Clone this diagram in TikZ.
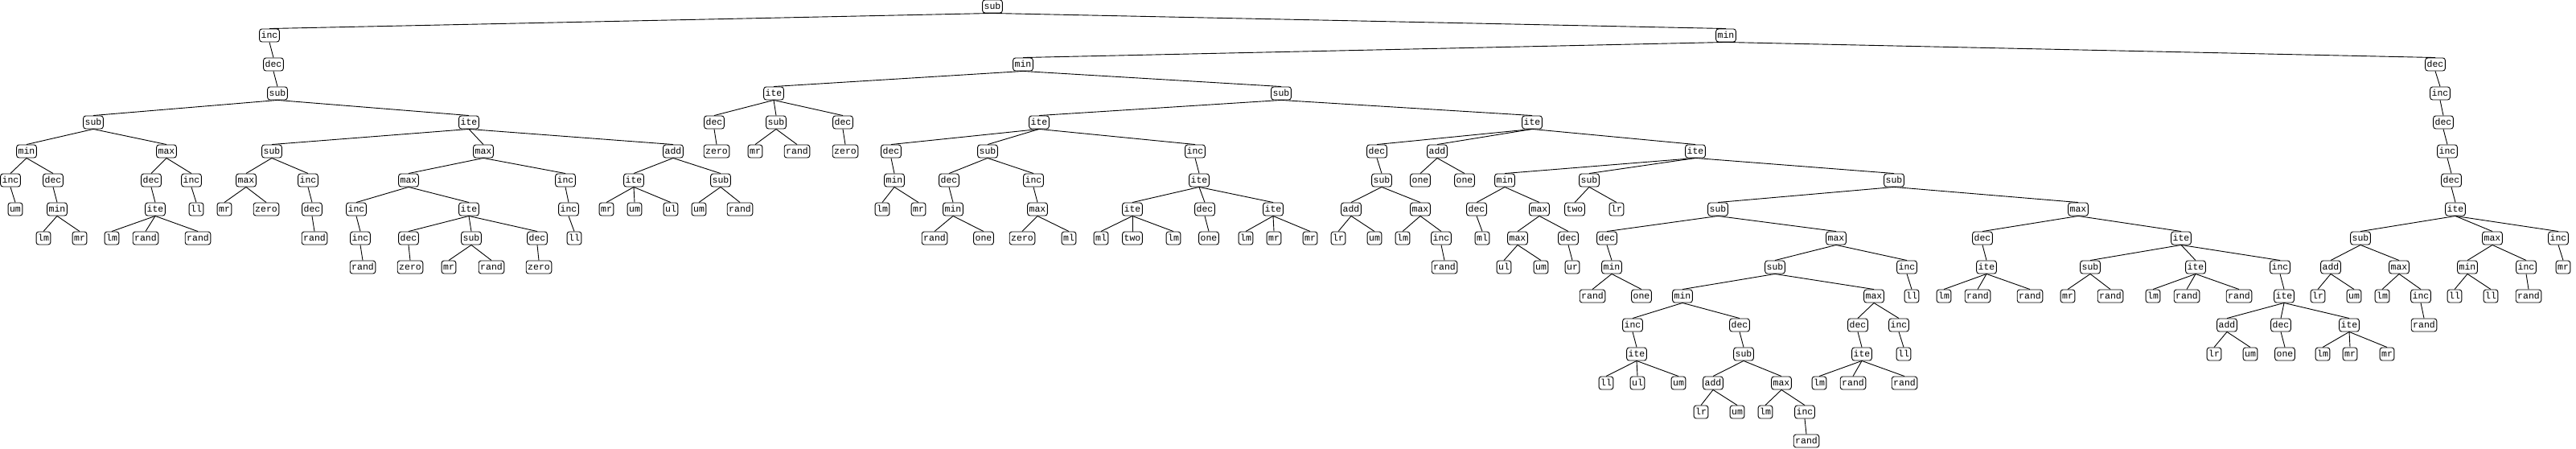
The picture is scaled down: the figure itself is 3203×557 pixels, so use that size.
\documentclass[tikz,border=0pt]{standalone}
\usepackage{fontspec}
\setmonofont{Liberation Mono}
\begin{document}
\begin{tikzpicture}[x=1pt, y=-1pt,
    op/.style={draw, rounded corners=3pt, inner xsep=2pt, inner ysep=1pt,
      minimum height=16pt, text height=8pt, text depth=2pt, line width=0.9pt,
      font=\ttfamily\fontsize{11.5}{12}\selectfont},
    edge/.style={line width=0.9pt}]
    \useasboundingbox (0,0) rectangle (3203,557);

    % Root
    \node[op] (n0) at (1234,8) {sub};

    % Left branch
    \node[op] (n1) at (335,44) {inc};
    \node[op] (n2) at (340,80) {dec};
    \node[op] (n3) at (345,116) {sub};
    \node[op] (n4) at (116,152) {sub};
    \node[op] (n5) at (33,188) {min};
    \node[op] (n6) at (13,224) {inc};
    \node[op] (n7) at (19,260) {um};
    \node[op] (n8) at (66,224) {dec};
    \node[op] (n9) at (71,260) {min};
    \node[op] (n10) at (54,296) {lm};
    \node[op] (n11) at (99,296) {mr};
    \node[op] (n12) at (207,188) {max};
    \node[op] (n13) at (188,224) {dec};
    \node[op] (n14) at (193,260) {ite};
    \node[op] (n15) at (139,296) {lm};
    \node[op] (n16) at (181,296) {rand};
    \node[op] (n17) at (246,296) {rand};
    \node[op] (n18) at (238,224) {inc};
    \node[op] (n19) at (244,260) {ll};
    \node[op] (n20) at (583,152) {ite};
    \node[op] (n21) at (338,188) {sub};
    \node[op] (n22) at (306,224) {max};
    \node[op] (n23) at (279,260) {mr};
    \node[op] (n24) at (331,260) {zero};
    \node[op] (n25) at (383,224) {inc};
    \node[op] (n26) at (388,260) {dec};
    \node[op] (n27) at (391,296) {rand};
    \node[op] (n28) at (601,188) {max};
    \node[op] (n29) at (508,224) {max};
    \node[op] (n30) at (443,260) {inc};
    \node[op] (n31) at (448,296) {inc};
    \node[op] (n32) at (451,332) {rand};
    \node[op] (n33) at (583,260) {ite};
    \node[op] (n34) at (508,296) {dec};
    \node[op] (n35) at (510,332) {zero};
    \node[op] (n36) at (586,296) {sub};
    \node[op] (n37) at (558,332) {mr};
    \node[op] (n38) at (611,332) {rand};
    \node[op] (n39) at (668,296) {dec};
    \node[op] (n40) at (670,332) {zero};
    \node[op] (n41) at (703,224) {inc};
    \node[op] (n42) at (707,260) {inc};
    \node[op] (n43) at (714,296) {ll};
    \node[op] (n44) at (837,188) {add};
    \node[op] (n45) at (788,224) {ite};
    \node[op] (n46) at (754,260) {mr};
    \node[op] (n47) at (789,260) {um};
    \node[op] (n48) at (834,260) {ul};
    \node[op] (n49) at (896,224) {sub};
    \node[op] (n50) at (869,260) {um};
    \node[op] (n51) at (920,260) {rand};

    % Right branch, first min
    \node[op] (n52) at (2146,44) {min};
    \node[op] (n53) at (1272,80) {min};
    \node[op] (n54) at (962,116) {ite};
    \node[op] (n55) at (888,152) {dec};
    \node[op] (n56) at (891,188) {zero};
    \node[op] (n57) at (965,152) {sub};
    \node[op] (n58) at (939,188) {mr};
    \node[op] (n59) at (991,188) {rand};
    \node[op] (n60) at (1048,152) {dec};
    \node[op] (n61) at (1051,188) {zero};
    \node[op] (n62) at (1593,116) {sub};
    \node[op] (n63) at (1292,152) {ite};
    \node[op] (n64) at (1108,188) {dec};
    \node[op] (n65) at (1112,224) {min};
    \node[op] (n66) at (1097,260) {lm};
    \node[op] (n67) at (1142,260) {mr};
    \node[op] (n68) at (1228,188) {sub};
    \node[op] (n69) at (1180,224) {dec};
    \node[op] (n70) at (1185,260) {min};
    \node[op] (n71) at (1162,296) {rand};
    \node[op] (n72) at (1223,296) {one};
    \node[op] (n73) at (1285,224) {inc};
    \node[op] (n74) at (1290,260) {max};
    \node[op] (n75) at (1271,296) {zero};
    \node[op] (n76) at (1329,296) {ml};
    \node[op] (n77) at (1486,188) {inc};
    \node[op] (n78) at (1491,224) {ite};
    \node[op] (n79) at (1408,260) {ite};
    \node[op] (n80) at (1369,296) {ml};
    \node[op] (n81) at (1408,296) {two};
    \node[op] (n82) at (1459,296) {lm};
    \node[op] (n83) at (1498,260) {dec};
    \node[op] (n84) at (1503,296) {one};
    \node[op] (n85) at (1583,260) {ite};
    \node[op] (n86) at (1549,296) {lm};
    \node[op] (n87) at (1584,296) {mr};
    \node[op] (n88) at (1629,296) {mr};

    % Right branch, the big ite
    \node[op] (n89) at (1905,152) {ite};
    \node[op] (n90) at (1712,188) {dec};
    \node[op] (n91) at (1718,224) {sub};
    \node[op] (n92) at (1680,260) {add};
    \node[op] (n93) at (1664,296) {lr};
    \node[op] (n94) at (1709,296) {um};
    \node[op] (n95) at (1766,260) {max};
    \node[op] (n96) at (1744,296) {lm};
    \node[op] (n97) at (1792,296) {inc};
    \node[op] (n98) at (1796,332) {rand};
    \node[op] (n99) at (1787,188) {add};
    \node[op] (n100) at (1766,224) {one};
    \node[op] (n101) at (1821,224) {one};
    \node[op] (n102) at (2108,188) {ite};
    \node[op] (n103) at (1871,224) {min};
    \node[op] (n104) at (1836,260) {dec};
    \node[op] (n105) at (1843,296) {ml};
    \node[op] (n106) at (1914,260) {max};
    \node[op] (n107) at (1887,296) {max};
    \node[op] (n108) at (1870,332) {ul};
    \node[op] (n109) at (1916,332) {um};
    \node[op] (n110) at (1950,296) {dec};
    \node[op] (n111) at (1955,332) {ur};
    \node[op] (n112) at (1976,224) {sub};
    \node[op] (n113) at (1958,260) {two};
    \node[op] (n114) at (2010,260) {lr};
    \node[op] (n115) at (2355,224) {sub};
    \node[op] (n116) at (2136,260) {sub};
    \node[op] (n117) at (1998,296) {dec};
    \node[op] (n118) at (2004,332) {min};
    \node[op] (n119) at (1980,368) {rand};
    \node[op] (n120) at (2041,368) {one};
    \node[op] (n121) at (2283,296) {max};
    \node[op] (n122) at (2207,332) {sub};
    \node[op] (n123) at (2092,368) {min};
    \node[op] (n124) at (2030,404) {inc};
    \node[op] (n125) at (2035,440) {ite};
    \node[op] (n126) at (1997,476) {ll};
    \node[op] (n127) at (2036,476) {ul};
    \node[op] (n128) at (2087,476) {um};
    \node[op] (n129) at (2163,404) {dec};
    \node[op] (n130) at (2168,440) {sub};
    \node[op] (n131) at (2130,476) {add};
    \node[op] (n132) at (2115,512) {lr};
    \node[op] (n133) at (2160,512) {um};
    \node[op] (n134) at (2215,476) {max};
    \node[op] (n135) at (2195,512) {lm};
    \node[op] (n136) at (2244,512) {inc};
    \node[op] (n137) at (2246,548) {rand};
    \node[op] (n138) at (2330,368) {max};
    \node[op] (n139) at (2310,404) {dec};
    \node[op] (n140) at (2315,440) {ite};
    \node[op] (n141) at (2262,476) {lm};
    \node[op] (n142) at (2304,476) {rand};
    \node[op] (n143) at (2368,476) {rand};
    \node[op] (n144) at (2361,404) {inc};
    \node[op] (n145) at (2367,440) {ll};
    \node[op] (n146) at (2371,332) {inc};
    \node[op] (n147) at (2377,368) {ll};
    \node[op] (n148) at (2584,260) {max};
    \node[op] (n149) at (2465,296) {dec};
    \node[op] (n150) at (2470,332) {ite};
    \node[op] (n151) at (2417,368) {lm};
    \node[op] (n152) at (2459,368) {rand};
    \node[op] (n153) at (2524,368) {rand};
    \node[op] (n154) at (2712,296) {ite};
    \node[op] (n155) at (2599,332) {sub};
    \node[op] (n156) at (2571,368) {mr};
    \node[op] (n157) at (2624,368) {rand};
    \node[op] (n158) at (2730,332) {ite};
    \node[op] (n159) at (2677,368) {lm};
    \node[op] (n160) at (2719,368) {rand};
    \node[op] (n161) at (2784,368) {rand};
    \node[op] (n162) at (2835,332) {inc};
    \node[op] (n163) at (2840,368) {ite};
    \node[op] (n164) at (2769,404) {add};
    \node[op] (n165) at (2753,440) {lr};
    \node[op] (n166) at (2798,440) {um};
    \node[op] (n167) at (2836,404) {dec};
    \node[op] (n168) at (2841,440) {one};
    \node[op] (n169) at (2921,404) {ite};
    \node[op] (n170) at (2888,440) {lm};
    \node[op] (n171) at (2922,440) {mr};
    \node[op] (n172) at (2968,440) {mr};

    % Right branch, dec/inc chain
    \node[op] (n173) at (3028,80) {dec};
    \node[op] (n174) at (3034,116) {inc};
    \node[op] (n175) at (3038,152) {dec};
    \node[op] (n176) at (3043,188) {inc};
    \node[op] (n177) at (3048,224) {dec};
    \node[op] (n178) at (3053,260) {ite};
    \node[op] (n179) at (2935,296) {sub};
    \node[op] (n180) at (2898,332) {add};
    \node[op] (n181) at (2882,368) {lr};
    \node[op] (n182) at (2927,368) {um};
    \node[op] (n183) at (2983,332) {max};
    \node[op] (n184) at (2962,368) {lm};
    \node[op] (n185) at (3010,368) {inc};
    \node[op] (n186) at (3014,404) {rand};
    \node[op] (n187) at (3099,296) {max};
    \node[op] (n188) at (3068,332) {min};
    \node[op] (n189) at (3052,368) {ll};
    \node[op] (n190) at (3097,368) {ll};
    \node[op] (n191) at (3141,332) {inc};
    \node[op] (n192) at (3144,368) {rand};
    \node[op] (n193) at (3181,296) {inc};
    \node[op] (n194) at (3187,332) {mr};

    % Edges, parent/child
    \foreach \p/\c in {0/1, 1/2, 2/3, 3/4, 4/5, 5/6, 6/7, 5/8, 8/9, 9/10, 9/11,
        4/12, 12/13, 13/14, 14/15, 14/16, 14/17, 12/18, 18/19,
        3/20, 20/21, 21/22, 22/23, 22/24, 21/25, 25/26, 26/27,
        20/28, 28/29, 29/30, 30/31, 31/32, 29/33, 33/34, 34/35, 33/36, 36/37, 36/38,
        33/39, 39/40, 28/41, 41/42, 42/43,
        20/44, 44/45, 45/46, 45/47, 45/48, 44/49, 49/50, 49/51,
        0/52, 52/53, 53/54, 54/55, 55/56, 54/57, 57/58, 57/59, 54/60, 60/61,
        53/62, 62/63, 63/64, 64/65, 65/66, 65/67, 63/68, 68/69, 69/70, 70/71, 70/72,
        68/73, 73/74, 74/75, 74/76, 63/77, 77/78, 78/79, 79/80, 79/81, 79/82,
        78/83, 83/84, 78/85, 85/86, 85/87, 85/88,
        62/89, 89/90, 90/91, 91/92, 92/93, 92/94, 91/95, 95/96, 95/97, 97/98,
        89/99, 99/100, 99/101, 89/102, 102/103, 103/104, 104/105, 103/106,
        106/107, 107/108, 107/109, 106/110, 110/111, 102/112, 112/113, 112/114,
        102/115, 115/116, 116/117, 117/118, 118/119, 118/120, 116/121, 121/122,
        122/123, 123/124, 124/125, 125/126, 125/127, 125/128, 123/129, 129/130,
        130/131, 131/132, 131/133, 130/134, 134/135, 134/136, 136/137,
        122/138, 138/139, 139/140, 140/141, 140/142, 140/143, 138/144, 144/145,
        121/146, 146/147, 115/148, 148/149, 149/150, 150/151, 150/152, 150/153,
        148/154, 154/155, 155/156, 155/157, 154/158, 158/159, 158/160, 158/161,
        154/162, 162/163, 163/164, 164/165, 164/166, 163/167, 167/168,
        163/169, 169/170, 169/171, 169/172,
        52/173, 173/174, 174/175, 175/176, 176/177, 177/178, 178/179, 179/180,
        180/181, 180/182, 179/183, 183/184, 183/185, 185/186, 178/187, 187/188,
        188/189, 188/190, 187/191, 191/192, 178/193, 193/194}
      \draw[edge] (n\p.south) -- (n\c.north);
\end{tikzpicture}
\end{document}
